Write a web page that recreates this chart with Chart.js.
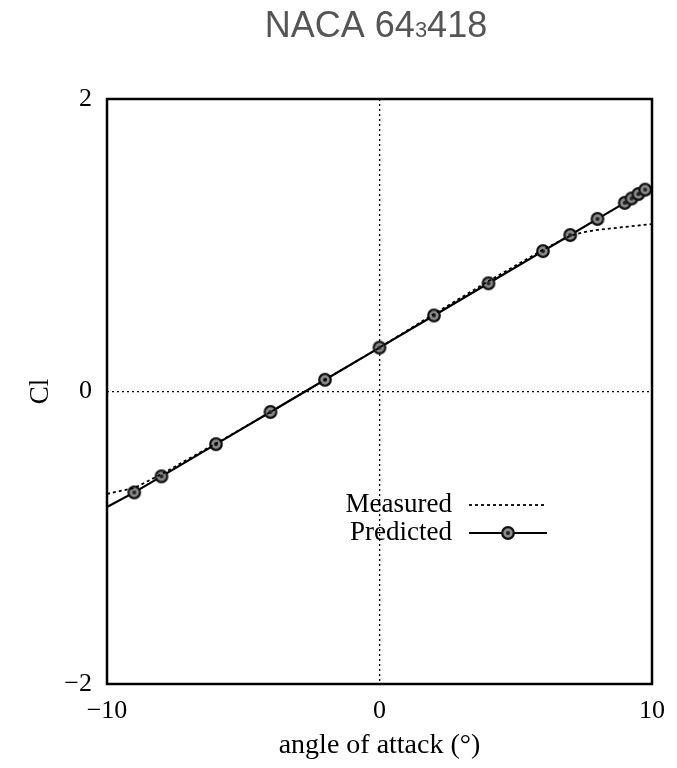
<!DOCTYPE html>
<html>
<head>
<meta charset="utf-8">
<title>NACA 64-3-418 lift curve</title>
<script src="https://cdn.jsdelivr.net/npm/chart.js@4.4.0/dist/chart.umd.min.js"></script>
<style>
    html, body { margin: 0; padding: 0; background: #fff; }
    #grafico { display: block; }
</style>
</head>
<body>
<canvas id="grafico" width="677" height="768"></canvas>
<script>
// Measured lift coefficient (dotted curve)
const measuredAlpha = [-10, -9, -8, -6, -4, -2, 0, 2, 4, 6, 7, 7.5, 8, 9, 10];
const measuredCl = [-0.70, -0.66, -0.565, -0.355, -0.14, 0.08, 0.30, 0.53, 0.755, 0.97, 1.065, 1.09, 1.105, 1.125, 1.145];

// Predicted lift coefficient (solid line with markers)
const predictedAlpha = [-10, -9, -8, -6, -4, -2, 0, 2, 4, 6, 7, 8, 9, 9.25, 9.5, 9.75, 10];
const predictedCl = [-0.79, -0.69, -0.58, -0.36, -0.14, 0.08, 0.30, 0.52, 0.74, 0.96, 1.07, 1.18, 1.29, 1.32, 1.35, 1.38, 1.40];

// Tick labels
const xTickLabels = ['\u221210', '0', '10'];
const yTickLabels = ['\u22122', '0', '2'];

const serif = '"Liberation Serif", "Times New Roman", serif';

// Marker: ring with a dot in the middle
const marker = document.createElement('canvas');
marker.width = 16;
marker.height = 16;
(function() {
    const m = marker.getContext('2d');
    m.beginPath();
    m.arc(8, 8, 5.8, 0, Math.PI * 2);
    m.fillStyle = '#8a8a8a';
    m.fill();
    m.lineWidth = 2.2;
    m.strokeStyle = '#111';
    m.stroke();
    m.beginPath();
    m.arc(8, 8, 2, 0, Math.PI * 2);
    m.fillStyle = '#222';
    m.fill();
})();

const toPoints = (xs, ys) => xs.map((x, i) => ({ x: x, y: ys[i] }));

// Title with the subscript digit
const titlePlugin = {
    id: 'tituloNaca',
    afterDraw(chart) {
        const c = chart.ctx;
        const big = '36px "Liberation Sans", Arial, sans-serif';
        const small = '22px "Liberation Sans", Arial, sans-serif';
        const parts = [['NACA 64', big], ['3', small], ['418', big]];
        c.save();
        let total = 0;
        parts.forEach(p => { c.font = p[1]; total += c.measureText(p[0]).width; });
        let x = 376 - total / 2;
        c.fillStyle = '#555';
        c.textBaseline = 'alphabetic';
        c.textAlign = 'left';
        parts.forEach(p => {
            c.font = p[1];
            c.fillText(p[0], x, 37);
            x += c.measureText(p[0]).width;
        });
        c.restore();
    }
};

// Box around the plot area
const framePlugin = {
    id: 'moldura',
    afterDraw(chart) {
        const a = chart.chartArea;
        const c = chart.ctx;
        c.save();
        c.strokeStyle = '#000';
        c.lineWidth = 2.5;
        c.strokeRect(a.left, a.top, a.right - a.left, a.bottom - a.top);
        c.restore();
    }
};

// Legend inside the plot: text on the left, line sample on the right
const legendPlugin = {
    id: 'legendaInterna',
    afterDraw(chart) {
        const a = chart.chartArea;
        const c = chart.ctx;
        const textRight = a.left + 345;
        const x0 = a.left + 362;
        const x1 = a.left + 440;
        c.save();
        c.font = '27px ' + serif;
        c.fillStyle = '#000';
        c.textAlign = 'right';
        c.textBaseline = 'middle';
        chart.data.datasets.forEach((ds, i) => {
            const y = a.top + 406 + i * 28;
            c.fillText(ds.label, textRight, y);
            c.beginPath();
            c.setLineDash(ds.borderDash || []);
            c.lineWidth = ds.borderWidth;
            c.strokeStyle = ds.borderColor;
            c.moveTo(x0, y);
            c.lineTo(x1, y);
            c.stroke();
            c.setLineDash([]);
            if (ds.label === 'Predicted') {
                c.drawImage(marker, (x0 + x1) / 2 - 8, y - 8);
            }
        });
        c.restore();
    }
};

const ctx = document.getElementById('grafico').getContext('2d');
window.grafico = new Chart(ctx, {
    type: 'scatter',
    data: {
        datasets: [{
            label: 'Measured',
            data: toPoints(measuredAlpha, measuredCl),
            showLine: true,
            borderColor: '#000',
            borderWidth: 1.8,
            borderDash: [3, 3],
            pointRadius: 0,
            tension: 0
        }, {
            label: 'Predicted',
            data: toPoints(predictedAlpha, predictedCl),
            showLine: true,
            borderColor: '#000',
            borderWidth: 2.2,
            pointStyle: marker,
            pointRadius: c => (Math.abs(c.raw.x) === 10 ? 0 : 6),
            tension: 0
        }]
    },
    options: {
        responsive: false,
        animation: false,
        layout: { padding: { top: 99, right: 23, left: 0, bottom: 0 } },
        plugins: {
            legend: { display: false },
            tooltip: { enabled: false }
        },
        scales: {
            x: {
                type: 'linear',
                min: -10,
                max: 10,
                ticks: {
                    stepSize: 10,
                    padding: 12,
                    color: '#000',
                    font: { family: serif, size: 26 },
                    callback: (v, i) => xTickLabels[i]
                },
                grid: {
                    drawTicks: false,
                    lineWidth: 1.3,
                    color: c => (c.tick && c.tick.value === 0 ? '#000' : 'rgba(0,0,0,0)')
                },
                border: { display: false, dash: [2, 3] },
                title: {
                    display: true,
                    text: 'angle of attack (\u00b0)',
                    color: '#000',
                    font: { family: serif, size: 28 },
                    padding: { top: 0, bottom: 6 }
                },
                afterFit: s => { s.height = 84; }
            },
            y: {
                type: 'linear',
                min: -2,
                max: 2,
                ticks: {
                    stepSize: 2,
                    padding: 15,
                    color: '#000',
                    font: { family: serif, size: 26 },
                    callback: (v, i) => yTickLabels[i]
                },
                grid: {
                    drawTicks: false,
                    lineWidth: 1.3,
                    color: c => (c.tick && c.tick.value === 0 ? '#000' : 'rgba(0,0,0,0)')
                },
                border: { display: false, dash: [2, 3] },
                title: {
                    display: true,
                    text: 'Cl',
                    color: '#000',
                    font: { family: serif, size: 27 },
                    padding: { top: 25, bottom: 0 }
                },
                afterFit: s => { s.width = 107; }
            }
        }
    },
    plugins: [titlePlugin, framePlugin, legendPlugin]
});
</script>
</body>
</html>
